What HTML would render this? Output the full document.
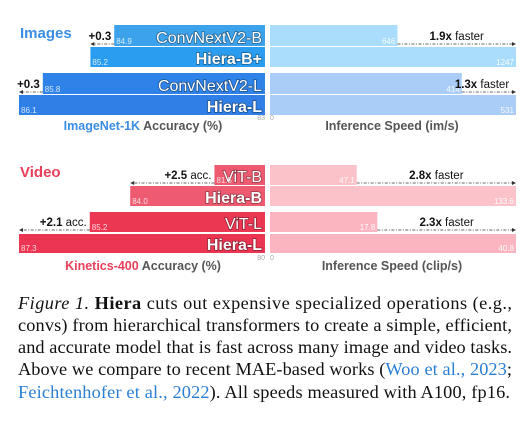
<!DOCTYPE html>
<html><head><meta charset="utf-8"><style>
html,body{margin:0;padding:0;background:#fff;}
svg{display:block;}
.lbl{font-family:"Liberation Sans",sans-serif;}
.cap{font-family:"Liberation Serif",serif;font-size:18.3px;fill:#111;}
</style></head><body>
<svg id="chart" width="529" height="422" viewBox="0 0 529 422" xmlns="http://www.w3.org/2000/svg">
<g id="bars"></g>
<text class="lbl" x="20" y="38" font-size="15" font-weight="bold" fill="#3a8ee6">Images</text>
<text class="lbl" x="20" y="177" font-size="15" font-weight="bold" fill="#e8405a">Video</text>
<text class="lbl" x="143" y="130" font-size="12.5" font-weight="bold" text-anchor="middle"><tspan fill="#3a8ee6">ImageNet-1K</tspan><tspan fill="#555"> Accuracy (%)</tspan></text>
<text class="lbl" x="392" y="130" font-size="12.5" font-weight="bold" text-anchor="middle" fill="#555">Inference Speed (im/s)</text>
<text class="lbl" x="143" y="270" font-size="12.5" font-weight="bold" text-anchor="middle"><tspan fill="#e8405a">Kinetics-400</tspan><tspan fill="#555"> Accuracy (%)</tspan></text>
<text class="lbl" x="392" y="270" font-size="12.5" font-weight="bold" text-anchor="middle" fill="#555">Inference Speed (clip/s)</text>
<g>
<text class="cap" x="18" y="309" textLength="494" lengthAdjust="spacing"><tspan font-style="italic">Figure 1.</tspan> <tspan font-weight="bold">Hiera</tspan> cuts out expensive specialized operations (e.g.,</text>
<text class="cap" x="18" y="331" textLength="494" lengthAdjust="spacing">convs) from hierarchical transformers to create a simple, efficient,</text>
<text class="cap" x="18" y="353" textLength="494" lengthAdjust="spacing">and accurate model that is fast across many image and video tasks.</text>
<text class="cap" x="18" y="375" textLength="494" lengthAdjust="spacing">Above we compare to recent MAE-based works (<tspan fill="#2a7fd4">Woo et al., 2023</tspan>;</text>
<text class="cap" x="18" y="398" textLength="492" lengthAdjust="spacing"><tspan fill="#2a7fd4">Feichtenhofer et al., 2022</tspan>). All speeds measured with A100, fp16.</text>
</g>
</svg>
<script>
// data
const models = ["ConvNextV2-B","Hiera-B+","ConvNextV2-L","Hiera-L","ViT-B","Hiera-B","ViT-L","Hiera-L"];
const accuracy = [84.9,85.2,85.8,86.1,81.5,84.0,85.2,87.3];
const speed = [646,1247,414,531,47.1,133.6,17.8,40.8];
const speedLabels = ["646","1247","414","531","47.1","133.6","17.8","40.8"];
const gainLabels = ["+0.3","+0.3","+2.5","+2.1"];
const speedupLabels = ["1.9x","1.3x","2.8x","2.3x"];
const accMin = [83,80];
const accMaxRef = [86.1,87.3];

const NS="http://www.w3.org/2000/svg";
const g=document.getElementById('bars');
function el(t,a,txt){const e=document.createElementNS(NS,t);for(const k in a)e.setAttribute(k,a[k]);if(txt!=null)e.textContent=txt;g.appendChild(e);return e;}
const ZERO_L=265, LEFT_END=19, ZERO_R=270, RIGHT_END=516;
function accX(v,sec){return ZERO_L-(v-accMin[sec])/(accMaxRef[sec]-accMin[sec])*(ZERO_L-LEFT_END);}
function spdX(v,max){return ZERO_R+v/max*(RIGHT_END-ZERO_R);}
const rowY=[25,47,73,95,165,186,212,234];
const rowH=[21,20,21,20,20,20,20,19];
const leftCol=["#3ca2ec","#2a9df0","#2f83e8","#2f7fe6","#ee5a70","#ee5a70","#ec3753","#ec3552"];
const rightCol=["#a9ddfb","#a9ddfb","#aacdf8","#aacdf8","#fcc2ca","#fcc2ca","#fab5c0","#fab5c0"];
for(let i=0;i<8;i++){
  const sec=i<4?0:1, pair=Math.floor(i/2);
  const max=Math.max(speed[pair*2],speed[pair*2+1]);
  const x=accX(accuracy[i],sec), y=rowY[i], h=rowH[i];
  let r=el('rect',{x:x,y:y,width:ZERO_L-x,height:h,fill:leftCol[i]});
  
  
  let t=el('text',{x:ZERO_L-3,y:y+h-3,'font-size':16,'text-anchor':'end',fill:'#fff','font-weight':i%2?'bold':'normal','class':'lbl',style:'paint-order:stroke;stroke:rgba(0,0,0,0.4);stroke-width:1.5'},models[i]);
  
  
  let v=el('text',{x:x+2,y:y+h-2,'font-size':8,fill:'rgba(255,255,255,0.8)','class':'lbl'},accuracy[i].toFixed(1));
  
  
  const sx=spdX(speed[i],max);
  let s=el('rect',{x:ZERO_R,y:y,width:sx-ZERO_R,height:h,fill:rightCol[i]});
  
  
  let sv=el('text',{x:sx-2,y:y+h-2,'font-size':8,'text-anchor':'end',fill:'rgba(255,255,255,0.9)','class':'lbl'},speedLabels[i]);
  
  
}
for(let p=0;p<4;p++){
  const sec=p<2?0:1, a=p*2, b=p*2+1;
  const max=Math.max(speed[a],speed[b]);
  const xa=accX(accuracy[a],sec), xb=accX(accuracy[b],sec), y=rowY[a]+rowH[a]-2;
  let l=el('line',{x1:xa,y1:y,x2:xb+4,y2:y,stroke:'#333','stroke-width':0.8,'stroke-dasharray':'3,1.5,1,1.5'});
  
  
  el('path',{d:`M${xb} ${y} l4 -2 v4 z`,fill:'#333'});
  let gt=el('text',{x:xa-3,y:y-4,'font-size':11.5,'text-anchor':'end','class':'lbl',fill:'#111'});
  gt.innerHTML=sec===0?`<tspan font-weight="bold">${gainLabels[p]}</tspan>`:`<tspan font-weight="bold">${gainLabels[p]}</tspan> acc.`;
  
  
  const sa=spdX(speed[a],max), sb=spdX(speed[b],max);
  let l2=el('line',{x1:sa,y1:y,x2:sb-4,y2:y,stroke:'#333','stroke-width':0.8,'stroke-dasharray':'3,1.5,1,1.5'});
  
  
  el('path',{d:`M${sb} ${y} l-4 -2 v4 z`,fill:'#333'});
  let st=el('text',{x:Math.min((sa+sb)/2,482),y:y-4,'font-size':11.5,'text-anchor':'middle','class':'lbl',fill:'#111'});
  st.innerHTML=`<tspan font-weight="bold">${speedupLabels[p]}</tspan> faster`;
  
  
}
[[120,0],[260,1]].forEach(([y,s])=>{
  let t=el('text',{x:ZERO_L,y:y,'font-size':7,'text-anchor':'end',fill:'#aaa','class':'lbl'},String(accMin[s]));
  
  
  let z=el('text',{x:ZERO_R,y:y,'font-size':7,fill:'#aaa','class':'lbl'},'0');
  
  
});
</script>
</body></html>
